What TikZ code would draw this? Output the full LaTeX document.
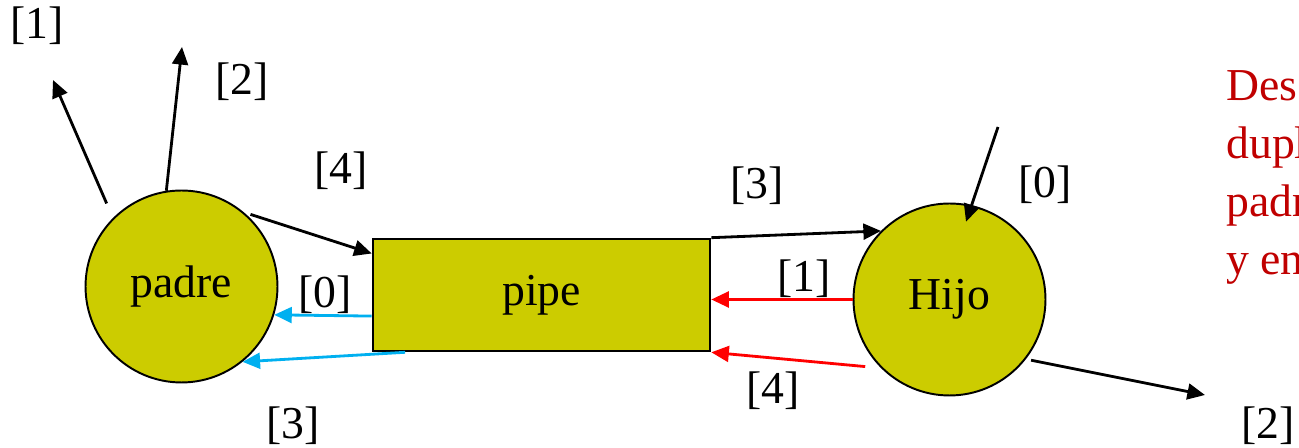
\documentclass[tikz,border=0pt]{standalone}
\usepackage{fontspec}
\setmainfont{Liberation Serif}
\usepackage{xcolor}
\usetikzlibrary{arrows.meta,calc}
\definecolor{pipeyellow}{HTML}{CCCC00}
\definecolor{cyanline}{HTML}{00B0F0}
\definecolor{redline}{HTML}{FF0000}
\definecolor{notered}{HTML}{C00000}
\begin{document}
\begin{tikzpicture}[x=0.02cm, y=-0.02cm,
    proc/.style={circle, draw, line width=1.1pt, fill=pipeyellow, minimum size=3.84cm, inner sep=0pt, font=\fontsize{26}{30}\selectfont},
    tube/.style={rectangle, draw, line width=1.5pt, fill=pipeyellow, minimum width=6.74cm, minimum height=2.24cm, inner sep=0pt, font=\fontsize{26}{30}\selectfont},
    arrow/.style={-{Triangle[length=10pt,width=9pt]}, line width=1.6pt},
    lbl/.style={inner sep=0pt, font=\fontsize{26}{30}\selectfont}
]
    \useasboundingbox (0,0) rectangle (1299,448);

    % Processes and pipe
    \node[proc] (padre) at (181.5,286.5) {padre};
    \node[tube] (pipe) at (541.5,295) {pipe};
    \node[proc] (hijo) at (949.5,299.5) {Hijo};

    % Free ends
    \coordinate (out1) at (53,80);
    \coordinate (out2) at (182,47);
    \coordinate (in0) at (998,127);
    \coordinate (hout2) at (1205,395);

    % Arrows of padre
    \draw[arrow, shorten <=9pt] (padre.135) -- (out1);
    \draw[arrow] (padre.99) -- (out2);
    \draw[arrow, shorten <=4pt] (padre.50) -- ([yshift=-9pt]pipe.north west);
    \draw[arrow, cyanline] ([yshift=-12pt]pipe.west) -- (padre.-17);
    \draw[arrow, cyanline] ([xshift=19pt]pipe.south west) -- (padre.-51);

    % Arrows of Hijo
    \draw[arrow] (pipe.north east) -- (hijo.135);
    \draw[arrow] (in0) -- ($(hijo.center)!0.82!(hijo.78)$);
    \draw[arrow, redline] (hijo.west) -- (hijo.west -| pipe.east);
    \draw[arrow, redline, shorten <=9pt] (hijo.-135) -- (pipe.south east);
    \draw[arrow, shorten <=3pt] (hijo.-38) -- (hout2);

    % Labels
    \node[lbl] (l1) at (37,26) {[1]};
    \node[lbl] (l2) at (242,82) {[2]};
    \node[lbl] (l4) at (341,171) {[4]};
    \node[lbl] (l0) at (325,295) {[0]};
    \node[lbl] (l3) at (293,426) {[3]};
    \node[lbl] (r3) at (757,186) {[3]};
    \node[lbl] (r1) at (804,279) {[1]};
    \node[lbl] (r4) at (773,391) {[4]};
    \node[lbl] (r0) at (1045,185) {[0]};
    \node[lbl] (r2) at (1268,426) {[2]};

    % Note
    \node[inner sep=0pt, anchor=north west, align=left, text=notered, font=\fontsize{26}{33}\selectfont] (nota) at (1226,70) {Des\\dupl\\padr\\y en};
\end{tikzpicture}
\end{document}
